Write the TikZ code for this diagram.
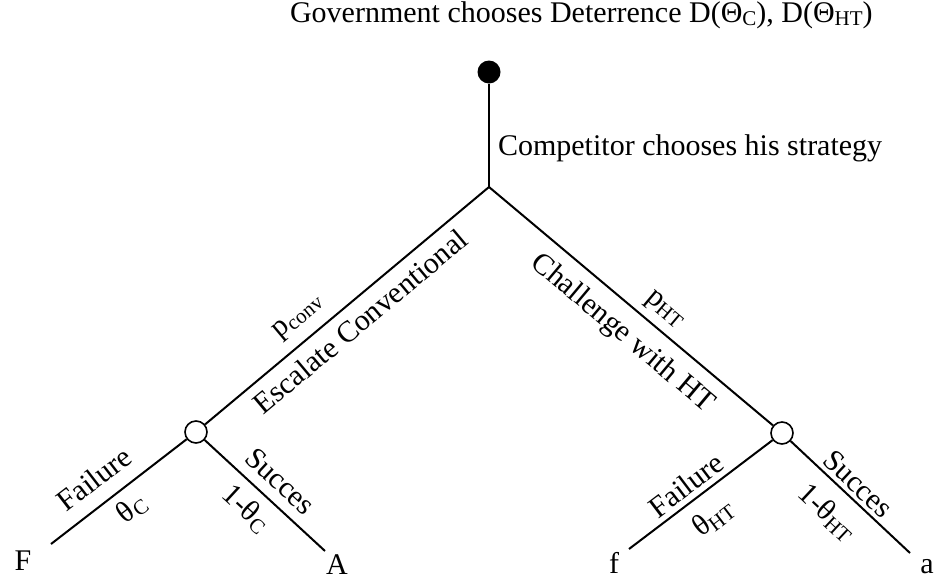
\documentclass[tikz,border=0pt]{standalone}
\usepackage{fontspec}
\setmainfont{Liberation Serif}
\newcommand{\lowsub}[1]{\raisebox{-0.25ex}{\fontsize{10.5}{11}\selectfont #1}}
\tikzset{
  chance/.style={circle,draw,fill=white,line width=0.8pt,minimum size=11pt,inner sep=0pt},
  decision/.style={circle,fill=black,minimum size=11.5pt,inner sep=0pt},
  branch/.style={line width=1pt},
  lab/.style={sloped,inner sep=1.5pt}
}

\begin{document}
\begin{tikzpicture}[x=0.5pt,y=-0.5pt,font=\fontsize{15}{18}\selectfont]
\useasboundingbox (0,0) rectangle (936,579);
\node [anchor=west] (gov) at (283,15) {Government chooses Deterrence D(Θ\lowsub{C}), D(Θ\lowsub{HT})};
\node [decision] (root) at (489,72) {};
\coordinate (split) at (489,187);
\node [anchor=west] (comp) at (491,148) {Competitor chooses his strategy};
\node [chance] (conv) at (196,432) {};
\node [chance] (ht) at (782,433) {};
\coordinate (Fend) at (51,544);
\coordinate (Aend) at (325,551);
\coordinate (fend) at (629,549);
\coordinate (aend) at (910,553);
\node (F) at (23,561) {F};
\node (A) at (337,565) {A};
\node (f) at (614,563) {f};
\node (a) at (927,567) {a};
\draw [branch] (root) -- (split);
\draw [branch] (conv) -- node [lab,pos=0.38,above=4pt] {p\lowsub{conv}}
  node [lab,pos=0.5,below=3pt] {Escalate Conventional} (split);
\draw [branch] (split) -- node [lab,pos=0.575,above=2pt] {p\lowsub{HT}}
  node [lab,pos=0.53,below=4.5pt] {Challenge with HT} (ht);
\draw [branch] (Fend) -- node [lab,pos=0.43,above=5.5pt] {Failure}
  node [lab,pos=0.5,below=2.5pt] {θ\lowsub{C}} (conv);
\draw [branch] (conv) -- node [lab,pos=0.51,above=3.5pt] {Succes}
  node [lab,pos=0.47,below=3pt] {1-θ\lowsub{C}} (Aend);
\draw [branch] (fend) -- node [lab,pos=0.465,above=1pt] {Failure}
  node [lab,pos=0.475,below=5pt] {θ\lowsub{HT}} (ht);
\draw [branch] (ht) -- node [lab,pos=0.48,above=0.5pt] {Succes}
  node [lab,pos=0.46,below=5.5pt] {1-θ\lowsub{HT}} (aend);
\end{tikzpicture}
\end{document}
